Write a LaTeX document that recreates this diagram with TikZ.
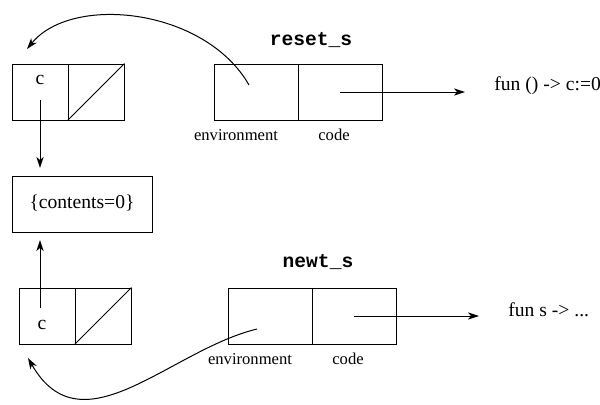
\documentclass[tikz,border=0pt]{standalone}
\usepackage{fontspec}
\setmainfont{Liberation Serif}
\setmonofont{Liberation Mono}
\usetikzlibrary{arrows.meta}
\begin{document}
\begin{tikzpicture}[x=0.5pt,y=-0.5pt,
  cell/.style={draw,line width=0.5pt,inner sep=0pt},
  lbl/.style={font=\fontsize{8.3}{10}\selectfont,inner sep=0pt},
  txt/.style={font=\fontsize{9.8}{12}\selectfont,inner sep=0pt},
  ttl/.style={font=\fontsize{9.8}{12}\selectfont\ttfamily\bfseries,inner sep=0pt},
  arr/.style={line width=0.5pt,-{Stealth[length=5.5pt,width=3.6pt,inset=1.5pt]}}]
\useasboundingbox (0,0) rectangle (600,404);
% top left cell
\node[cell,minimum width=28pt,minimum height=28pt] (tl1) at (40,92) {};
\node[cell,minimum width=28pt,minimum height=28pt] (tl2) at (96,92) {};
\draw[line width=0.5pt] (tl2.south west) -- (tl2.north east);
\node[txt] (tlc) at (40,80) {c};
% contents box
\node[cell,minimum width=70pt,minimum height=28pt] (ref) at (82,204) {};
\node[txt] (reft) at (82,203) {\{contents=0\}};
% bottom left cell
\node[cell,minimum width=28pt,minimum height=28pt] (bl1) at (47,316) {};
\node[cell,minimum width=28pt,minimum height=28pt] (bl2) at (103,316) {};
\draw[line width=0.5pt] (bl2.south west) -- (bl2.north east);
\node[txt] (blc) at (42,325) {c};
% arrows to contents
\coordinate (a1) at (40,100);
\coordinate (a1e) at (40,168);
\draw[arr] (a1) -- (a1e);
\coordinate (a2) at (40,308);
\coordinate (a2e) at (40,240);
\draw[arr] (a2) -- (a2e);
% reset_s closure
\node[ttl] (rs) at (311,40) {reset\_s};
\node[cell,minimum width=42pt,minimum height=28pt] (re) at (256,92) {};
\node[cell,minimum width=42pt,minimum height=28pt] (rc) at (340,92) {};
\node[lbl] (rel) at (236,135) {environment};
\node[lbl] (rcl) at (334,135) {code};
\node[txt,anchor=west] (rf) at (494,86) {fun () -> c:=0};
\coordinate (rcs) at (340,92);
\coordinate (rce) at (465,92);
\draw[arr] (rcs) -- (rce);
\coordinate (res) at (249,85);
\coordinate (ree) at (27,49);
\draw[arr] (res) .. controls (205,8) and (72,-6) .. (ree);
% newt_s closure
\node[ttl] (ns) at (318,262) {newt\_s};
\node[cell,minimum width=42pt,minimum height=28pt] (ne) at (270,316) {};
\node[cell,minimum width=42pt,minimum height=28pt] (nc) at (354,316) {};
\node[lbl] (nel) at (250,359) {environment};
\node[lbl] (ncl) at (348,359) {code};
\node[txt,anchor=west] (nf) at (508,310) {fun s -> ...};
\coordinate (ncs) at (354,316);
\coordinate (nce) at (479,316);
\draw[arr] (ncs) -- (nce);
\coordinate (nes) at (257,329);
\coordinate (nee) at (28,358);
\draw[arr] (nes) .. controls (170,350) and (82,452) .. (nee);
\end{tikzpicture}
\end{document}
